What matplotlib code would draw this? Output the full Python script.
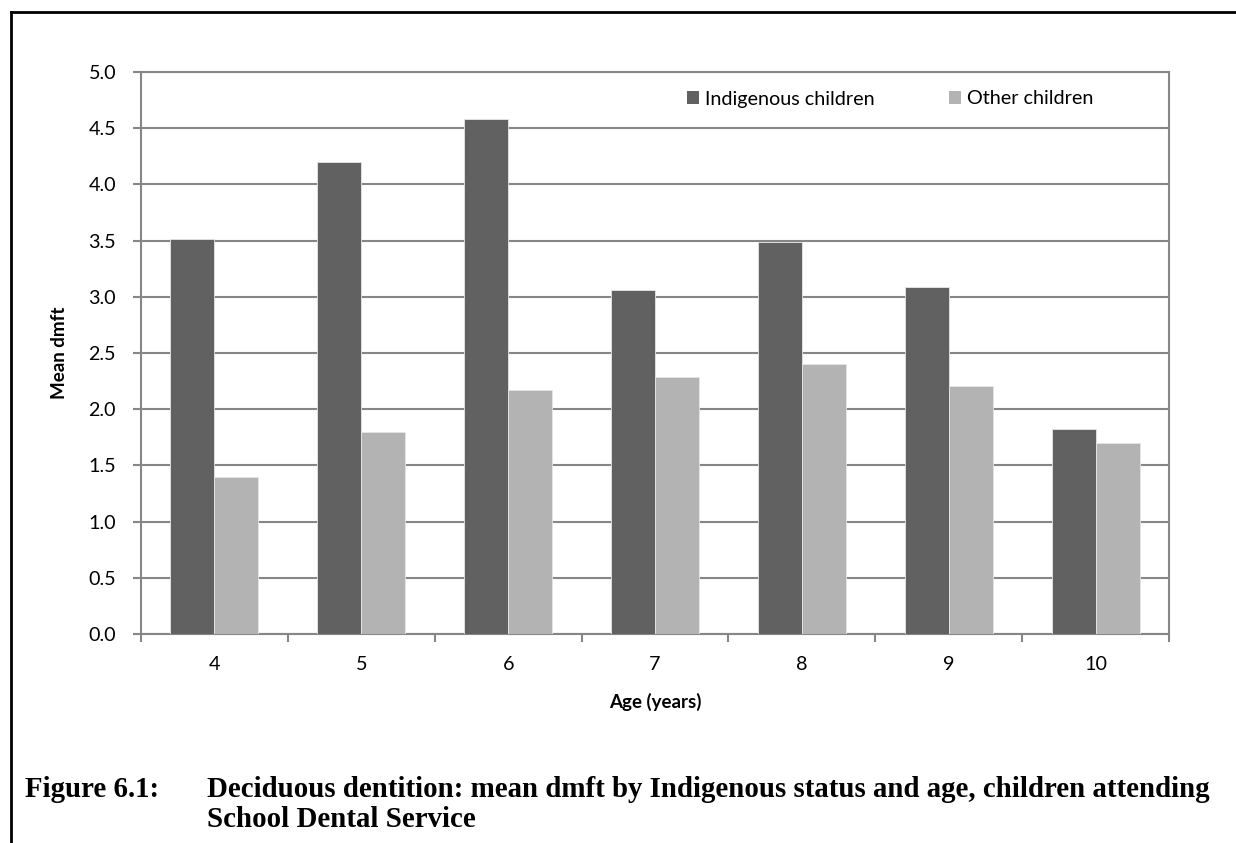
import matplotlib
matplotlib.use("Agg")
import matplotlib.pyplot as plt
from matplotlib.patches import Patch
from matplotlib.lines import Line2D
import numpy as np

ages = ["4", "5", "6", "7", "8", "9", "10"]
indigenous = [3.51, 4.20, 4.58, 3.06, 3.49, 3.09, 1.82]
other = [1.40, 1.80, 2.17, 2.29, 2.40, 2.21, 1.70]
series_names = ["Indigenous children", "Other children"]
yticks = [0.0, 0.5, 1.0, 1.5, 2.0, 2.5, 3.0, 3.5, 4.0, 4.5, 5.0]
caption_num = "Figure 6.1:"
caption_l1 = "Deciduous dentition: mean dmft by Indigenous status and age, children attending"
caption_l2 = "School Dental Service"

DARK = "#616161"
LIGHT = "#b3b3b3"
GRID = "#868686"
sans = ["Lato", "DejaVu Sans"]
FS = 14.2

W, H = 1236, 843
fig = plt.figure(figsize=(W / 100, H / 100), dpi=100)
fig.patch.set_facecolor("white")

ax = fig.add_axes([141 / W, 1 - 634 / H, (1169 - 141) / W, (634 - 72) / H])
x = np.arange(len(ages))
bw = 0.3
ax.bar(x - bw / 2, indigenous, bw, color=DARK, edgecolor="#e6e6e6", linewidth=0.6, zorder=3)
ax.bar(x + bw / 2, other, bw, color=LIGHT, edgecolor="#e6e6e6", linewidth=0.6, zorder=3)

ax.set_xlim(-0.5, len(ages) - 0.5)
ax.set_ylim(0, 5.0)
ax.set_yticks(yticks)
ax.set_yticklabels([f"{v:.1f}" for v in yticks], fontfamily=sans, fontsize=FS)
ax.yaxis.grid(True, color=GRID, linewidth=1.5, zorder=0)
ax.set_axisbelow(True)

ax.set_xticks(np.arange(len(ages) + 1) - 0.5)
ax.set_xticklabels([])
ax.set_xticks(x, minor=True)
ax.set_xticklabels(ages, minor=True, fontfamily=sans, fontsize=FS)
ax.tick_params(axis="x", which="major", length=6, width=1.5, color=GRID, direction="out")
ax.tick_params(axis="x", which="minor", length=0, pad=16)
ax.tick_params(axis="y", length=6, width=1.5, color=GRID, pad=12)
for s in ax.spines.values():
    s.set_color(GRID)
    s.set_linewidth(1.5)

ax.set_ylabel("Mean dmft", fontfamily=sans, fontsize=13.5, fontweight="bold", labelpad=0)
ax.yaxis.set_label_coords((68 - 141) / (1169 - 141), 0.5)
ax.set_xlabel("Age (years)", fontfamily=sans, fontsize=13.5, fontweight="bold")
ax.xaxis.set_label_coords(0.5, -(693 - 634) / (634 - 72))

handles = [Patch(facecolor=DARK, edgecolor="none"), Patch(facecolor=LIGHT, edgecolor="none")]
leg = ax.legend(handles, series_names, ncol=2, frameon=False, loc="center left",
                bbox_to_anchor=((687 - 141) / 1028, (634 - 99) / 562),
                borderpad=0, borderaxespad=0, handlelength=0.62, handleheight=0.62,
                handletextpad=0.3, columnspacing=3.75,
                prop={"family": sans, "size": FS})

# outer frame lines
fig.add_artist(Line2D([11 / W, 11 / W], [0, 1 - 12 / H], transform=fig.transFigure,
                      color="black", linewidth=2))
fig.add_artist(Line2D([11 / W, 1], [1 - 12 / H, 1 - 12 / H], transform=fig.transFigure,
                      color="black", linewidth=2))

serif = ["Liberation Serif", "DejaVu Serif"]
cap_kw = dict(fontfamily=serif, fontweight="bold", fontsize=20.8, va="baseline", ha="left")
fig.text(25 / W, 1 - 797 / H, caption_num, **cap_kw)
fig.text(207 / W, 1 - 797 / H, caption_l1, **cap_kw)
fig.text(207 / W, 1 - 827 / H, caption_l2, **cap_kw)

fig.savefig("out.png", dpi=100, facecolor="white")
